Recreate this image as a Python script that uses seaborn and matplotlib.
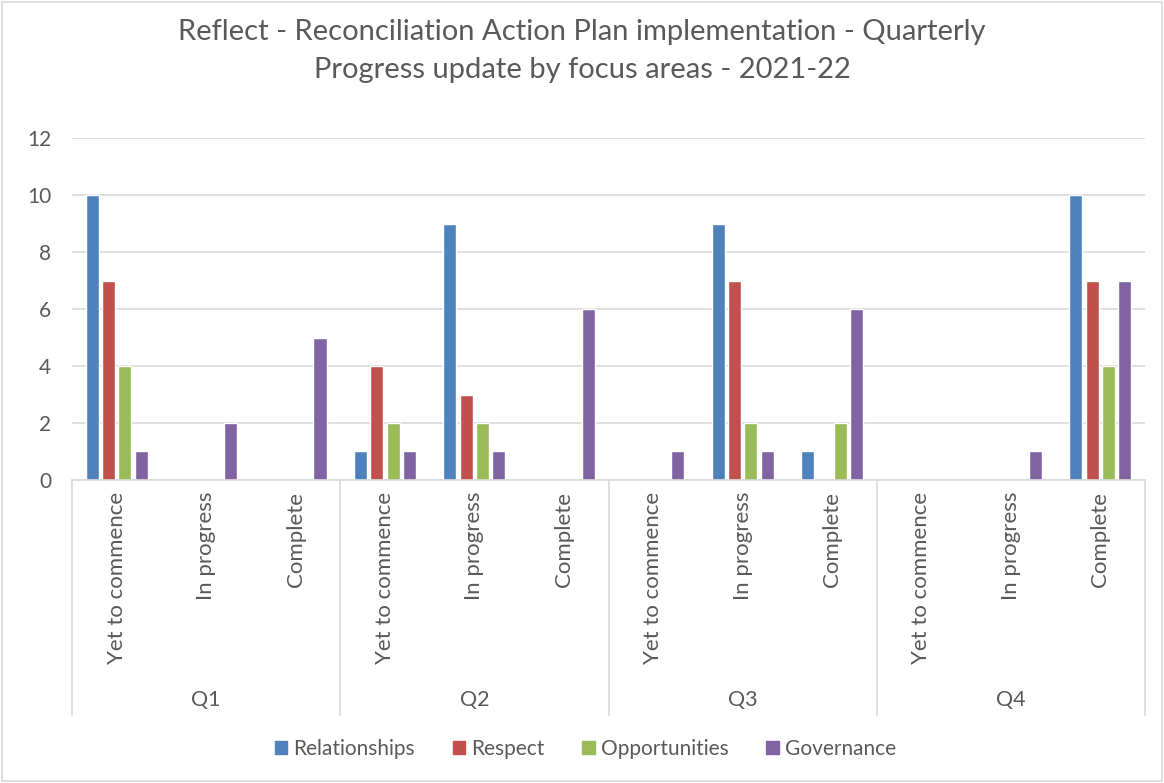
import matplotlib
matplotlib.use("Agg")
import matplotlib.pyplot as plt
import matplotlib.transforms as mtransforms
from matplotlib.patches import Rectangle
import seaborn as sns
import pandas as pd

quarters = ["Q1", "Q2", "Q3", "Q4"]
statuses = ["Yet to commence", "In progress", "Complete"]
series = ["Relationships", "Respect", "Opportunities", "Governance"]

relationships = [10, 0, 0, 1, 9, 0, 0, 9, 1, 0, 0, 10]
respect       = [7, 0, 0, 4, 3, 0, 0, 7, 0, 0, 0, 7]
opportunities = [4, 0, 0, 2, 2, 0, 0, 2, 2, 0, 0, 4]
governance    = [1, 2, 5, 1, 1, 6, 1, 1, 6, 0, 1, 7]

colors = ["#4F81BD", "#C0504D", "#9BBB59", "#8064A2"]

sns.set_theme(style="white")
plt.rcParams["font.family"] = ["Lato", "DejaVu Sans"]

keys = [f"{q}|{s}" for q in quarters for s in statuses]
rows = []
for name, vals in zip(series, [relationships, respect, opportunities, governance]):
    for k, v in zip(keys, vals):
        rows.append({"cat": k, "series": name, "value": v})
df = pd.DataFrame(rows)

fig = plt.figure(figsize=(11.64, 7.83), dpi=100)
ax = fig.add_axes([72 / 1164, 1 - 480 / 783, (1145 - 72) / 1164, (480 - 138) / 783])

sns.barplot(data=df, x="cat", y="value", hue="series", order=keys, hue_order=series,
            palette=colors, width=0.73, gap=0.2, ax=ax, legend=False, errorbar=None,
            saturation=1)

txt = "#595959"
ax.set_ylim(0, 12)
ax.set_xlim(-0.5, len(keys) - 0.5)
ax.set_yticks(range(0, 13, 2))
ax.set_yticklabels([str(v) for v in range(0, 13, 2)], fontsize=15, color=txt)
ax.tick_params(axis="y", length=0, pad=15)
ax.set_xticks([])
ax.set_xlabel("")
ax.set_ylabel("")
ax.yaxis.grid(True, color="#D9D9D9", linewidth=1.2)
ax.set_axisbelow(True)
for s in ["top", "right", "left"]:
    ax.spines[s].set_visible(False)
ax.spines["bottom"].set_color("#D9D9D9")
ax.spines["bottom"].set_linewidth(1.2)

trans = mtransforms.blended_transform_factory(ax.transData, ax.transAxes)
ybot = -(715 - 480) / 342
for i in range(len(quarters) + 1):
    x = i * 3 - 0.5
    ax.plot([x, x], [0, ybot], transform=trans, color="#D9D9D9", lw=1.2, clip_on=False)
for i, k in enumerate(keys):
    ax.text(i, -12 / 342, k.split("|")[1], transform=trans, rotation=90, ha="center",
            va="top", fontsize=16, color=txt)
for qi, q in enumerate(quarters):
    ax.text(qi * 3 + 1, -(700 - 480) / 342, q, transform=trans, ha="center", va="center",
            fontsize=15.5, color=txt)

fig.text(0.5, 1 - 32 / 783, "Reflect - Reconciliation Action Plan implementation - Quarterly",
         ha="center", va="center", fontsize=21, color=txt)
fig.text(0.5, 1 - 70 / 783, "Progress update by focus areas - 2021-22",
         ha="center", va="center", fontsize=21, color=txt)

handles = [Rectangle((0, 0), 1, 1, color=c) for c in colors]
fig.legend(handles, series, loc="center", bbox_to_anchor=(0.503, 1 - 749 / 783), ncol=4,
           frameon=False, fontsize=15, labelcolor=txt, handlelength=0.6, handleheight=0.6,
           handletextpad=0.3, columnspacing=1.8)

fig.patches.append(Rectangle((0.002, 0.002), 0.996, 0.996, transform=fig.transFigure,
                             fill=False, edgecolor="#D9D9D9", lw=1.2))

fig.savefig("out.png", dpi=100, facecolor="white")
